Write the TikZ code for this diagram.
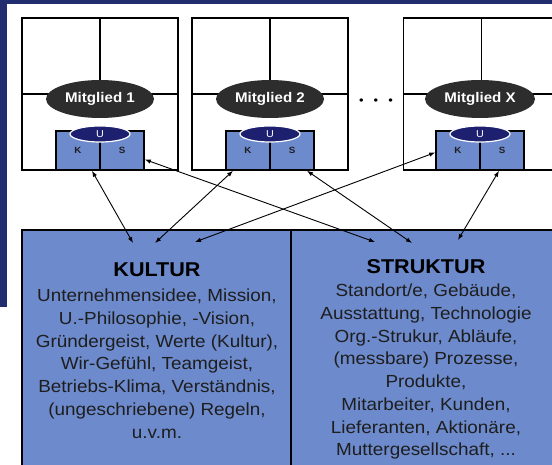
\documentclass[tikz,border=0pt]{standalone}
\usepackage{fontspec}
\setmainfont{Liberation Sans}[FakeStretch=1.08]
\usepackage{tikz}
\usetikzlibrary{shapes, arrows.meta}

\definecolor{frameblue}{RGB}{33,45,110}
\definecolor{boxblue}{RGB}{108,138,204}
\definecolor{darkoval}{RGB}{45,45,45}
\definecolor{navyoval}{RGB}{28,32,110}
\definecolor{textgrey}{RGB}{30,30,30}

\begin{document}
\begin{tikzpicture}[x=1pt, y=-1pt,
  member/.style={rectangle, draw, line width=1.6pt, minimum width=156, minimum height=152, inner sep=0},
  grid/.style={line width=1.3pt},
  mitglied/.style={ellipse, fill=darkoval, text=white, minimum width=108, minimum height=38, inner sep=0, font=\fontsize{14}{16}\selectfont\bfseries},
  cell/.style={rectangle, draw, fill=boxblue, line width=1.6pt, minimum width=44, minimum height=39, inner sep=0, text=textgrey, font=\fontsize{9}{10}\selectfont\bfseries},
  unode/.style={ellipse, draw=white, fill=navyoval, line width=1.2pt, text=white, minimum width=60, minimum height=16, inner sep=0, font=\fontsize{10}{10}\selectfont},
  bigbox/.style={rectangle, draw, fill=boxblue, line width=1.6pt, minimum width=270, minimum height=250, inner sep=0},
  heading/.style={anchor=base, inner sep=0, font=\fontsize{20}{22}\selectfont\bfseries},
  body/.style={anchor=north, inner sep=0, align=center, text=textgrey, font=\fontsize{17.5}{22.7}\selectfont},
  link/.style={<->, >={Latex[length=6pt,width=4.5pt]}, line width=0.9pt}]
\useasboundingbox (0,0) rectangle (552,465);
\clip (0,0) rectangle (552,465);
\fill[white] (0,0) rectangle (552,465);
\fill[frameblue] (0,0) rectangle (552,4);
\fill[frameblue] (0,0) rectangle (7,307);

% Mitglied 1
\node[member] (m1) at (100,94) {};
\draw[grid] (m1.north) -- (m1.center);
\draw[grid] (m1.west) -- (m1.east);
\node[mitglied] (e1) at (100,99) {Mitglied 1};
\node[cell] (k1) at (78,150.5) {K};
\node[cell] (s1) at (122,150.5) {S};
\node[unode] (u1) at (100,134) {U};

% Mitglied 2
\node[member] (m2) at (270,94) {};
\draw[grid] (m2.north) -- (m2.center);
\draw[grid] (m2.west) -- (m2.east);
\node[mitglied] (e2) at (270,99) {Mitglied 2};
\node[cell] (k2) at (248,150.5) {K};
\node[cell] (s2) at (292,150.5) {S};
\node[unode] (u2) at (270,134) {U};

\node[font=\fontsize{12}{12}\selectfont] (dots) at (376,102) {\textbullet\hspace{10pt}\textbullet\hspace{10pt}\textbullet};

% Mitglied X
\node[member] (mx) at (481.5,94) {};
\draw[grid] (mx.north) -- (mx.center);
\draw[grid] (mx.west) -- (mx.east);
\node[mitglied, minimum width=110] (ex) at (480,99) {Mitglied X};
\node[cell] (kx) at (458,150.5) {K};
\node[cell] (sx) at (502,150.5) {S};
\node[unode] (ux) at (480,134) {U};

% Kultur / Struktur
\node[bigbox] (kultur) at (157,355) {};
\node[bigbox] (struktur) at (426,355) {};
\node[heading] (kulturhead) at (157,277) {KULTUR};
\node[body] (kulturtext) at (157,289) {Unternehmensidee, Mission,\\U.-Philosophie, -Vision,\\Gründergeist, Werte (Kultur),\\Wir-Gefühl, Teamgeist,\\Betriebs-Klima, Verständnis,\\(ungeschriebene) Regeln,\\u.v.m.};
\node[heading] (strukturhead) at (426,274) {STRUKTUR};
\node[body] (strukturtext) at (426,284) {Standort/e, Gebäude,\\Ausstattung, Technologie\\Org.-Strukur, Abläufe,\\(messbare) Prozesse,\\Produkte,\\Mitarbeiter, Kunden,\\Lieferanten, Aktionäre,\\Muttergesellschaft, ...};

\coordinate (ku1) at (133,243);
\coordinate (ku2) at (155,243);
\coordinate (ku3) at (195,242);
\coordinate (st1) at (375,242);
\coordinate (st2) at (412,243);
\coordinate (st3) at (458,240);

\draw[link] ([xshift=14]k1.south) -- (ku1);
\draw[link] ([yshift=-9]s1.east) -- (st1);
\draw[link] ([xshift=-15]k2.south) -- (ku2);
\draw[link] ([xshift=15]s2.south) -- (st2);
\draw[link] ([yshift=-2]kx.west) -- (ku3);
\draw[link] ([xshift=-3]sx.south) -- (st3);
\end{tikzpicture}
\end{document}
